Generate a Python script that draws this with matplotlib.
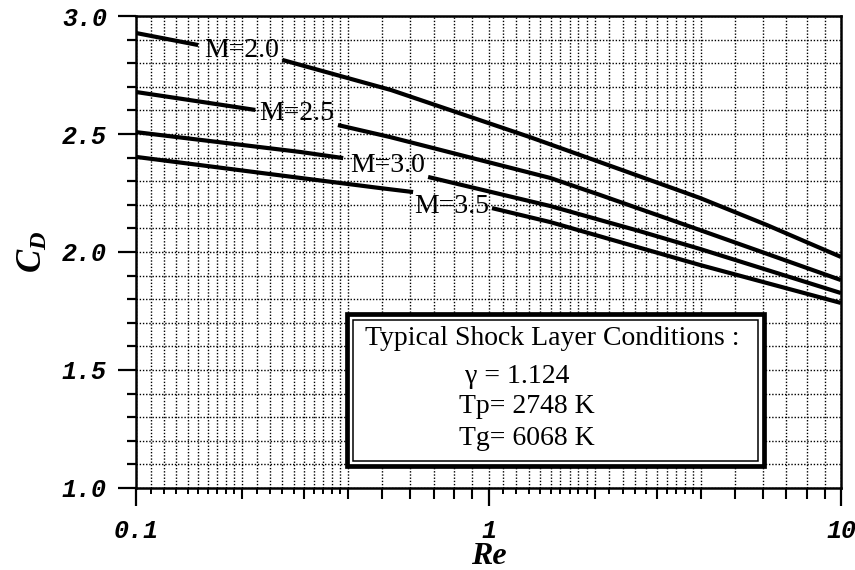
import numpy as np
import matplotlib
matplotlib.use('Agg')
import matplotlib.pyplot as plt
from matplotlib.patches import Rectangle
from matplotlib.ticker import FixedLocator, NullFormatter, NullLocator, MultipleLocator
from matplotlib.font_manager import FontProperties

# data (None = gap where the curve label sits)
re_m20 = [0.1, 0.15, None, 0.26, 0.53, 1.31, 2.07, 3.98, 6.17, 10.0]
cd_m20 = [2.928, 2.877, None, 2.814, 2.686, 2.487, 2.381, 2.229, 2.114, 1.979]

re_m25 = [0.1, 0.218, None, 0.374, 0.526, 0.90, 1.495, 2.07, 3.98, 10.0]
cd_m25 = [2.678, 2.602, None, 2.538, 2.487, 2.398, 2.314, 2.242, 2.093, 1.881]

re_m30 = [0.1, 0.292, 0.387, None, 0.674, 1.495, 2.69, 3.98, 10.0]
cd_m30 = [2.508, 2.424, 2.398, None, 2.318, 2.195, 2.088, 2.013, 1.826]

re_m35 = [0.1, 0.292, 0.492, 0.611, None, 1.023, 1.495, 3.98, 10.0]
cd_m35 = [2.403, 2.314, 2.271, 2.254, None, 2.186, 2.127, 1.945, 1.784]

curves = [(re_m20, cd_m20), (re_m25, cd_m25), (re_m30, cd_m30), (re_m35, cd_m35)]
label_text = ['M=2.0', 'M=2.5', 'M=3.0', 'M=3.5']
label_re = [0.2, 0.285, 0.517, 0.785]
label_cd = [2.826, 2.559, 2.339, 2.165]

x_major = [0.1, 1, 10]
x_major_labels = ['0.1', '1', '10']
y_major = [1.0, 1.5, 2.0, 2.5, 3.0]
y_major_labels = ['1.0', '1.5', '2.0', '2.5', '3.0']

box_title = 'Typical Shock Layer Conditions :'
box_lines = ['\u03b3 = 1.124', 'Tp= 2748 K', 'Tg= 6068 K']

plt.rcParams['mathtext.fontset'] = 'custom'
plt.rcParams['mathtext.it'] = 'Liberation Serif:italic:bold'
plt.rcParams['mathtext.rm'] = 'Liberation Serif:bold'

fig = plt.figure(figsize=(8.55, 5.7), dpi=100)
ax = fig.add_axes([0.1591, 0.1439, 0.8245, 0.828])

for re_vals, cd_vals in curves:
    ax.plot(np.array(re_vals, dtype=float), np.array(cd_vals, dtype=float),
            color='black', lw=3.0, solid_capstyle='butt', solid_joinstyle='round', zorder=3)

serif = FontProperties(family='Liberation Serif', size=20)
for txt, xr, yc in zip(label_text, label_re, label_cd):
    ax.text(xr, yc, txt, fontproperties=serif, ha='center', va='baseline', zorder=4)

ax.set_xscale('log')
ax.set_xlim(0.1, 10)
ax.set_ylim(1.0, 3.0)

tickfont = FontProperties(family='Liberation Mono', weight='bold', style='italic', size=18)
ax.xaxis.set_major_locator(FixedLocator(x_major))
ax.set_xticks(x_major, x_major_labels, fontproperties=tickfont)
ax.set_yticks(y_major, y_major_labels, fontproperties=tickfont)

fine = np.round(np.concatenate([
    np.arange(0.11, 0.2, 0.01), np.arange(0.2, 0.4, 0.02), np.arange(0.4, 1.0, 0.1),
    np.arange(1.1, 2.0, 0.1), np.arange(2.0, 4.0, 0.2), np.arange(4.0, 10.0, 1.0)]), 3)
medium = [0.2, 0.3, 0.4, 0.5, 0.6, 0.7, 0.8, 0.9, 2, 3, 4, 5, 6, 7, 8, 9]
ax.xaxis.set_minor_locator(FixedLocator(fine))
ax.xaxis.set_minor_formatter(NullFormatter())
ax.yaxis.set_minor_locator(MultipleLocator(0.1))

ax.tick_params(axis='x', which='major', length=13, width=1.6, pad=9, direction='out')
ax.tick_params(axis='x', which='minor', length=4.5, width=1.4, direction='out')
ax.tick_params(axis='y', which='major', length=13, width=1.6, pad=8, direction='out')
ax.tick_params(axis='y', which='minor', length=6.5, width=1.6, direction='out')

sec = ax.secondary_xaxis('bottom')
sec.set_xticks(medium)
sec.set_xticklabels([])
sec.xaxis.set_minor_locator(NullLocator())
sec.tick_params(axis='x', which='major', length=8, width=1.5, direction='out')
sec.spines['bottom'].set_visible(False)

ax.grid(which='both', axis='both', color='black', linestyle=(0, (1, 1.3)), linewidth=1.0)
for sp in ax.spines.values():
    sp.set_linewidth(1.8)

# shock layer conditions box (double border)
outer = Rectangle((0.2993, 0.0466), 0.5915, 0.322, transform=ax.transAxes,
                  facecolor='white', edgecolor='black', lw=3.4, zorder=5)
inner = Rectangle((0.3078, 0.0572), 0.5745, 0.2987, transform=ax.transAxes,
                  facecolor='white', edgecolor='black', lw=1.1, zorder=6)
ax.add_patch(outer)
ax.add_patch(inner)
ax.text(0.590, 0.303, box_title, transform=ax.transAxes, fontproperties=serif,
        ha='center', va='baseline', zorder=7)
for txt, xf, yf in zip(box_lines, [0.540, 0.554, 0.554], [0.2225, 0.1589, 0.0911]):
    ax.text(xf, yf, txt, transform=ax.transAxes, fontproperties=serif,
            ha='center', va='baseline', zorder=7)

ax.text(-0.148, 0.5, r'$C_D$', transform=ax.transAxes, rotation=90,
        ha='center', va='center', fontsize=25)
ax.text(0.5, -0.145, 'Re', transform=ax.transAxes, ha='center', va='center',
        fontproperties=FontProperties(family='Liberation Serif', weight='bold',
                                      style='italic', size=23))

fig.savefig('out.png', dpi=100)
